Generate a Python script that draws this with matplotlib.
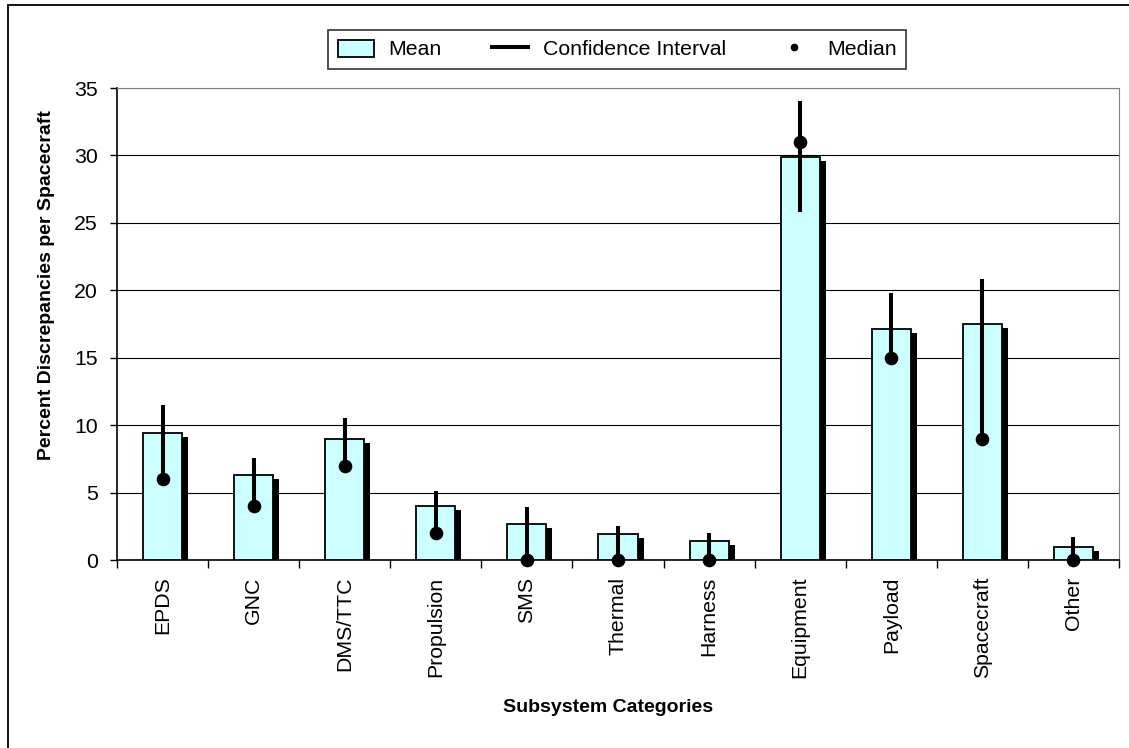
"""
subsystem discrepancy chart: mean bars with shadow,
confidence interval lines and median dots
"""

import matplotlib
matplotlib.use('Agg')
import matplotlib.pyplot as plt
from matplotlib.patches import Patch, Rectangle
from matplotlib.lines import Line2D
import numpy as np

plt.rcParams['font.family'] = ['Liberation Sans', 'DejaVu Sans']

categories = ['EPDS', 'GNC', 'DMS/TTC', 'Propulsion', 'SMS', 'Thermal',
              'Harness', 'Equipment', 'Payload', 'Spacecraft', 'Other']
mean_vals = [9.4, 6.3, 9.0, 4.0, 2.7, 1.9, 1.4, 29.9, 17.1, 17.5, 1.0]
ci_high = [11.5, 7.6, 10.5, 5.1, 3.9, 2.5, 2.0, 34.0, 19.8, 20.8, 1.7]
ci_low = [6.0, 4.0, 7.0, 2.0, 0.0, 0.0, 0.0, 25.8, 15.0, 9.0, 0.0]
median_vals = [6, 4, 7, 2, 0, 0, 0, 31, 15, 9, 0]

W, H = 1129, 748
fig = plt.figure(figsize=(W / 100, H / 100), dpi=100)
ax = fig.add_axes([117 / W, 1 - 560 / H, (1119 - 117) / W, (560 - 88) / H])

# outer chart border (runs off the right and bottom of the picture)
fig.patches.append(Rectangle((8 / W, -0.1), 1.2, 1.1 - 5 / H,
                             transform=fig.transFigure, fill=False,
                             edgecolor='black', linewidth=1.3))

x = np.arange(len(categories))
bw = 0.43
# shadow bars, offset right and down
ax.bar(x + 6 / 91.1, mean_vals, width=bw, bottom=-4 / 13.49,
       color='black', zorder=2)
ax.bar(x, mean_vals, width=bw, color='#CCFFFF', edgecolor='black',
       linewidth=1.3, zorder=3)
ax.vlines(x, ci_low, ci_high, color='black', linewidth=2.9, zorder=4)
ax.plot(x, median_vals, 'o', color='black', markersize=8.8, zorder=5,
        clip_on=False)

ax.set_xlim(-0.5, len(categories) - 0.5)
ax.set_ylim(0, 35)
ax.set_yticks(range(0, 36, 5))
ax.yaxis.grid(True, color='black', linewidth=0.8)
ax.set_axisbelow(True)

ax.set_xticks(x)
ax.set_xticklabels(categories, rotation=90, fontsize=15.3)
ax.set_xticks(np.arange(-0.5, len(categories)), minor=True)
ax.tick_params(axis='x', which='major', length=0, pad=12)
ax.tick_params(axis='x', which='minor', length=6, width=1, direction='out')
ax.tick_params(axis='y', length=5, width=1, pad=9, labelsize=15.3)

for side in ['top', 'right']:
    ax.spines[side].set_color('#808080')
for side in ['left', 'bottom']:
    ax.spines[side].set_color('black')
    ax.spines[side].set_linewidth(1.2)

fig.text(47 / W, 1 - 285 / H, 'Percent Discrepancies per Spacecraft',
         rotation=90, ha='center', va='center', fontsize=14,
         fontweight='bold')
fig.text(608 / W, 1 - 708 / H, 'Subsystem Categories', ha='center',
         va='center', fontsize=14, fontweight='bold')

handles = [Patch(facecolor='#CCFFFF', edgecolor='black', linewidth=1.3),
           Line2D([], [], color='black', linewidth=2.9),
           Line2D([], [], marker='o', color='black', linestyle='none',
                  markersize=4.5)]
leg = fig.legend(handles, ['Mean', 'Confidence Interval', 'Median'],
                 loc='center', bbox_to_anchor=(617 / W, 1 - 49.5 / H),
                 ncol=3, fontsize=15.3, frameon=True, fancybox=False,
                 edgecolor='black', handlelength=1.7, handleheight=0.85,
                 handletextpad=0.7, columnspacing=2.35, borderpad=0.45,
                 borderaxespad=0)
leg.get_frame().set_linewidth(1.2)

plt.savefig('out.png', dpi=100)
